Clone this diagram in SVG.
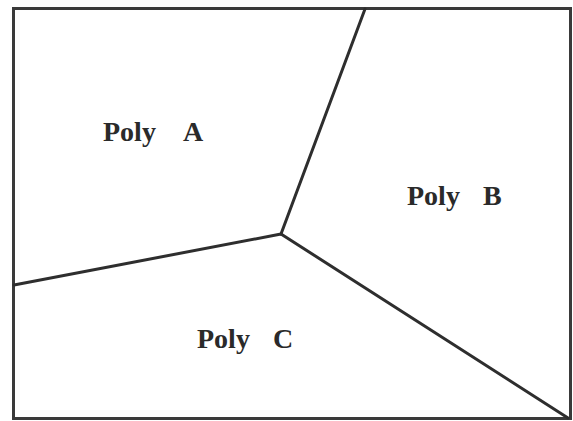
<svg xmlns="http://www.w3.org/2000/svg" width="573" height="421" viewBox="0 0 573 421">
<style>
.bg{fill:#ffffff}
.border{fill:none;stroke:#3a3a3a;stroke-width:3}
.edge{fill:none;stroke:#2e2e2e;stroke-width:3;stroke-linecap:round}
.lbl{font-family:"Liberation Serif","Times New Roman",serif;font-weight:bold;font-size:28px;fill:#2a2a2a}
</style>
<rect class="bg" x="0" y="0" width="573" height="421"/>
<rect class="border" x="13.5" y="8.5" width="557" height="410"/>
<g id="edges">
<line class="edge" x1="365" y1="9" x2="281" y2="234"/>
<line class="edge" x1="281" y1="234" x2="14" y2="285"/>
<line class="edge" x1="281" y1="234" x2="568" y2="418"/>
</g>
<g id="polyA"><text class="lbl" y="141"><tspan x="103">Poly</tspan><tspan x="183">A</tspan></text></g>
<g id="polyB"><text class="lbl" y="205"><tspan x="407">Poly</tspan><tspan x="483">B</tspan></text></g>
<g id="polyC"><text class="lbl" y="348"><tspan x="197">Poly</tspan><tspan x="273">C</tspan></text></g>
</svg>
